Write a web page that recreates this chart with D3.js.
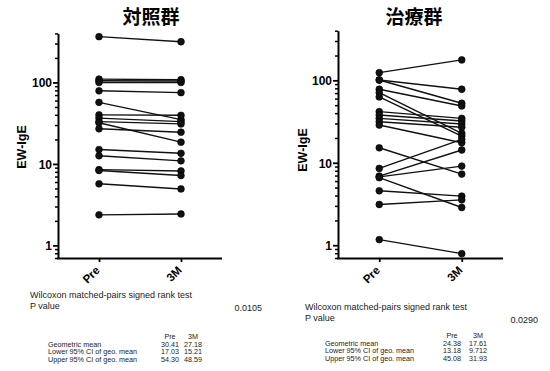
<!DOCTYPE html>
<html>
<head>
<meta charset="utf-8">
<script src="https://cdn.jsdelivr.net/npm/d3@7/dist/d3.min.js"></script>
<style>
  html, body { margin: 0; padding: 0; background: #fff; }
  svg { display: block; }
  text { font-family: "Liberation Sans", Arial, sans-serif; }
</style>
</head>
<body>
<svg id="chart" width="550" height="371"></svg>
<script>
// ---- data ----
const categories = ["Pre", "3M"];
const panelTitles = ["対照群", "治療群"];
const yLabel = "EW-IgE";
const yTickLabels = [1, 10, 100];

const controlPre  = [365, 110, 105, 100, 79, 57, 40, 36.5, 33, 32, 27, 15, 12.6, 8.5, 8.3, 5.7, 2.37];
const control3M   = [316, 108, 104, 100, 75, 35, 39.5, 33, 31, 18.5, 24.5, 13.5, 10.9, 8.2, 7.2, 4.93, 2.43];

const treatedPre  = [124, 101, 101, 78, 71, 63, 41.7, 38, 34.6, 31.5, 28.7, 15.2, 8.55, 6.9, 6.75, 6.6, 4.57, 3.12, 1.17];
const treated3M   = [177, 78, 52.7, 48.9, 22.8, 21.1, 34.6, 32.1, 29.5, 27, 17.5, 7.29, 19.2, 14.3, 9.12, 2.87, 3.94, 3.55, 0.79];

const testName = "Wilcoxon matched-pairs signed rank test";
const pLabel = "P value";
const pValues = ["0.0105", "0.0290"];
const statRows = ["Geometric mean", "Lower 95% CI of geo. mean", "Upper 95% CI of geo. mean"];
const controlStats = [["30.41", "27.18"], ["17.03", "15.21"], ["54.30", "48.59"]];
const treatedStats = [["24.38", "17.61"], ["13.18", "9.712"], ["45.08", "31.93"]];

// ---- drawing ----
const svg = d3.select("#chart");

function minorTicks(lo, hi) {
  const out = [];
  for (let e = -1; e <= 2; e++) {
    for (let m = 2; m <= 9; m++) {
      const v = m * Math.pow(10, e);
      if (v > lo && v <= hi) out.push(v);
    }
  }
  return out;
}

function drawPanel(cfg) {
  const g = svg.append("g");
  const y = d3.scaleLog().domain([0.7, 400]).range([cfg.yBottom, cfg.yTop]);
  const x = d3.scalePoint().domain(categories).range([cfg.x0, cfg.x1]).padding(0.5);

  // title
  g.append("text")
    .attr("x", cfg.titleX).attr("y", 24)
    .attr("text-anchor", "middle")
    .style("font-family", "'Noto Sans CJK JP', 'Noto Sans CJK SC', sans-serif")
    .style("font-weight", "bold").style("font-size", "19px")
    .text(cfg.title);

  // y label
  g.append("text")
    .attr("transform", `translate(${cfg.yLabelX},${cfg.yLabelY}) rotate(-90)`)
    .attr("text-anchor", "middle")
    .style("font-weight", "bold").style("font-size", "12.5px")
    .text(yLabel);

  // y axis: minor
  const minor = g.append("g").attr("transform", `translate(${cfg.x0},0)`)
    .call(d3.axisLeft(y).tickValues(minorTicks(0.7, 400)).tickSize(3).tickSizeOuter(0).tickFormat(""));
  minor.select(".domain").remove();
  minor.selectAll("line").attr("stroke", "#000").attr("stroke-width", 1.5);

  // y axis: major
  const major = g.append("g").attr("transform", `translate(${cfg.x0},0)`)
    .call(d3.axisLeft(y).tickValues(yTickLabels).tickSize(5).tickSizeOuter(0).tickPadding(1).tickFormat(d3.format("d")));
  major.select(".domain").attr("stroke", "#000").attr("stroke-width", 2);
  major.selectAll("line").attr("stroke", "#000").attr("stroke-width", 1.8);
  major.selectAll("text").style("font-weight", "bold").style("font-size", "12px")
    .attr("dy", "0.36em").attr("fill", "#000");

  // x axis
  const xa = g.append("g").attr("transform", `translate(0,${cfg.yBottom})`)
    .call(d3.axisBottom(x).tickSize(4).tickSizeOuter(0).tickFormat(""));
  xa.select(".domain").attr("stroke", "#000").attr("stroke-width", 2)
    .attr("d", `M${cfg.x0 - 1},0.5H${cfg.x1}`);
  xa.selectAll("line").attr("stroke", "#000").attr("stroke-width", 1.8);
  xa.selectAll(".tick").append("text")
    .attr("transform", "translate(1,13) rotate(-45)")
    .attr("text-anchor", "end")
    .attr("fill", "#000")
    .style("font-weight", "bold").style("font-size", "11.5px")
    .text(d => d);

  // paired lines
  const pairs = cfg.pre.map((v, i) => [v, cfg.post[i]]);
  g.append("g").selectAll("line").data(pairs).join("line")
    .attr("x1", x(categories[0])).attr("x2", x(categories[1]))
    .attr("y1", d => y(d[0])).attr("y2", d => y(d[1]))
    .attr("stroke", "#111").attr("stroke-width", 1.4);

  const pts = [];
  pairs.forEach(d => { pts.push([categories[0], d[0]]); pts.push([categories[1], d[1]]); });
  g.append("g").selectAll("circle").data(pts).join("circle")
    .attr("cx", d => x(d[0])).attr("cy", d => y(d[1])).attr("r", 3.4)
    .attr("fill", "#111").attr("stroke", "#000").attr("stroke-width", 0.6);

  // stats text
  const t = g.append("g").attr("fill", "#222");
  t.append("text").attr("x", cfg.statX).attr("y", cfg.testY)
    .style("font-size", "9px").text(testName);
  t.append("text").attr("x", cfg.statX).attr("y", cfg.testY + 10.5)
    .style("font-size", "9px").text(pLabel);
  t.append("text").attr("x", cfg.pX).attr("y", cfg.testY + 13)
    .attr("text-anchor", "end")
    .style("font-size", "9px").text(cfg.p);

  const colX = cfg.colX;
  categories.forEach((c, j) => {
    t.append("text").attr("x", colX[j]).attr("y", cfg.tableY).attr("text-anchor", "middle")
      .style("font-size", "7.2px").text(c);
  });
  statRows.forEach((r, i) => {
    const yy = cfg.tableY + 7.5 + i * 7.6;
    t.append("text").attr("x", cfg.rowX).attr("y", yy).style("font-size", "7.2px").text(r);
    cfg.stats[i].forEach((v, j) => {
      t.append("text").attr("x", colX[j]).attr("y", yy).attr("text-anchor", "middle")
        .style("font-size", "7.2px").text(v);
    });
  });
}

drawPanel({
  title: panelTitles[0], titleX: 151,
  x0: 58, x1: 222, yTop: 33.4, yBottom: 258,
  yLabelX: 26, yLabelY: 147,
  pre: controlPre, post: control3M,
  statX: 30, testY: 298, pX: 262, p: pValues[0],
  tableY: 339, rowX: 48, colX: [170, 193], stats: controlStats
});

drawPanel({
  title: panelTitles[1], titleX: 414,
  x0: 338, x1: 503, yTop: 30.7, yBottom: 258,
  yLabelX: 307, yLabelY: 150,
  pre: treatedPre, post: treated3M,
  statX: 305, testY: 310, pX: 538, p: pValues[1],
  tableY: 338, rowX: 325, colX: [452, 478], stats: treatedStats
});
</script>
</body>
</html>
